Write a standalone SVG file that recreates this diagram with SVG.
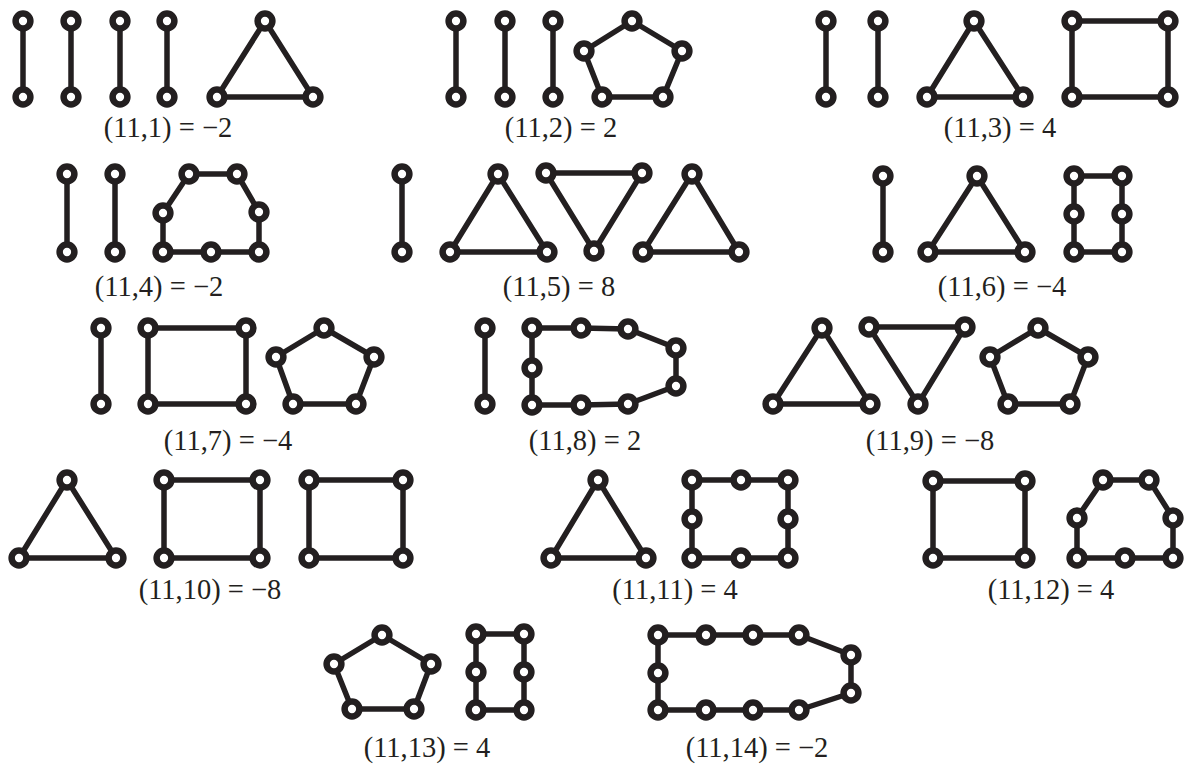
<svg xmlns="http://www.w3.org/2000/svg" width="1186" height="765" viewBox="0 0 1186 765">
<style>
.e{fill:none;stroke:#231f20;stroke-width:5.5;stroke-linejoin:round}
.n{fill:#fff;stroke:#231f20;stroke-width:6.5}
.t{font-family:"Liberation Serif","Times New Roman",serif;font-size:28.5px;fill:#231f20;text-anchor:middle}
</style>
<defs><circle id="c" r="7.4" class="n"/></defs>
<rect width="1186" height="765" fill="#fff"/>
<g id="connectors">
  <g id="e1">
    <line class="e" x1="23" y1="21" x2="23" y2="97"/><line class="e" x1="71" y1="21" x2="71" y2="97"/>
    <line class="e" x1="120" y1="21" x2="120" y2="97"/><line class="e" x1="167" y1="21" x2="167" y2="97"/>
    <polygon class="e" points="265,21 313,97 217,97"/>
  </g>
  <g id="e2">
    <line class="e" x1="456" y1="21" x2="456" y2="97"/><line class="e" x1="505" y1="21" x2="505" y2="97"/>
    <line class="e" x1="553" y1="21" x2="553" y2="97"/>
    <polygon class="e" points="632,21 682,51 663,97 602,97 584,51"/>
  </g>
  <g id="e3">
    <line class="e" x1="826" y1="21" x2="826" y2="97"/><line class="e" x1="878" y1="21" x2="878" y2="97"/>
    <polygon class="e" points="974,21 1023,97 927,97"/>
    <polygon class="e" points="1072,21 1168,21 1168,97 1072,97"/>
  </g>
  <g id="e4">
    <line class="e" x1="67" y1="174" x2="67" y2="252"/><line class="e" x1="115" y1="174" x2="115" y2="252"/>
    <polygon class="e" points="189,174 237,174 259,212 259,252 211,252 163,252 163,213"/>
  </g>
  <g id="e5">
    <line class="e" x1="402" y1="174" x2="402" y2="252"/>
    <polygon class="e" points="498,174 547,252 450,252"/>
    <polygon class="e" points="546,173 642,173 594,251"/>
    <polygon class="e" points="692,174 739,252 643,252"/>
  </g>
  <g id="e6">
    <line class="e" x1="883" y1="176" x2="883" y2="252"/>
    <polygon class="e" points="977,176 1025,252 928,252"/>
    <polygon class="e" points="1074,176 1122,176 1122,214 1122,252 1074,252 1074,214"/>
  </g>
  <g id="e7">
    <line class="e" x1="101" y1="328" x2="101" y2="404"/>
    <polygon class="e" points="148,328 246,328 246,404 148,404"/>
    <polygon class="e" points="324,328 374,357 356,404 293,404 276,357"/>
  </g>
  <g id="e8">
    <line class="e" x1="485" y1="328" x2="485" y2="404"/>
    <polygon class="e" points="532,328 581,328 628,329 676,348 676,386 628,404 581,405 532,405 532,368"/>
  </g>
  <g id="e9">
    <polygon class="e" points="822,328 870,404 773,404"/>
    <polygon class="e" points="869,327 965,327 918,404"/>
    <polygon class="e" points="1038,328 1088,357 1070,404 1008,404 990,357"/>
  </g>
  <g id="e10">
    <polygon class="e" points="67,480 116,558 19,558"/>
    <polygon class="e" points="164,480 260,480 260,558 164,558"/>
    <polygon class="e" points="309,480 403,480 403,558 309,558"/>
  </g>
  <g id="e11">
    <polygon class="e" points="598,480 646,558 551,558"/>
    <polygon class="e" points="692,480 741,480 788,480 788,519 788,558 741,558 692,558 692,519"/>
  </g>
  <g id="e12">
    <polygon class="e" points="933,481 1025,481 1025,558 933,558"/>
    <polygon class="e" points="1103,480 1149,480 1173,518 1173,558 1125,558 1077,558 1077,518"/>
  </g>
  <g id="e13">
    <polygon class="e" points="382,635 431,664 414,709 352,709 334,664"/>
    <polygon class="e" points="476,634 524,634 524,672 524,710 476,710 476,672"/>
  </g>
  <g id="e14">
    <polygon class="e" points="658,635 706,635 753,635 799,635 851,655 851,693 799,710 753,710 706,710 658,710 658,673"/>
  </g>
</g>
<g id="d1">
  <use href="#c" x="23" y="21"/><use href="#c" x="23" y="97"/>
  <use href="#c" x="71" y="21"/><use href="#c" x="71" y="97"/>
  <use href="#c" x="120" y="21"/><use href="#c" x="120" y="97"/>
  <use href="#c" x="167" y="21"/><use href="#c" x="167" y="97"/>
  <use href="#c" x="265" y="21"/><use href="#c" x="217" y="97"/><use href="#c" x="313" y="97"/>
  <text class="t" x="168" y="137">(11,1) = −2</text>
</g>
<g id="d2">
  <use href="#c" x="456" y="21"/><use href="#c" x="456" y="97"/>
  <use href="#c" x="505" y="21"/><use href="#c" x="505" y="97"/>
  <use href="#c" x="553" y="21"/><use href="#c" x="553" y="97"/>
  <use href="#c" x="632" y="21"/><use href="#c" x="682" y="51"/><use href="#c" x="663" y="97"/>
  <use href="#c" x="602" y="97"/><use href="#c" x="584" y="51"/>
  <text class="t" x="561" y="137">(11,2) = 2</text>
</g>
<g id="d3">
  <use href="#c" x="826" y="21"/><use href="#c" x="826" y="97"/>
  <use href="#c" x="878" y="21"/><use href="#c" x="878" y="97"/>
  <use href="#c" x="974" y="21"/><use href="#c" x="1023" y="97"/><use href="#c" x="927" y="97"/>
  <use href="#c" x="1072" y="21"/><use href="#c" x="1168" y="21"/>
  <use href="#c" x="1168" y="97"/><use href="#c" x="1072" y="97"/>
  <text class="t" x="1000" y="137">(11,3) = 4</text>
</g>
<g id="d4">
  <use href="#c" x="67" y="174"/><use href="#c" x="67" y="252"/>
  <use href="#c" x="115" y="174"/><use href="#c" x="115" y="252"/>
  <use href="#c" x="189" y="174"/><use href="#c" x="237" y="174"/><use href="#c" x="259" y="212"/>
  <use href="#c" x="259" y="252"/><use href="#c" x="211" y="252"/><use href="#c" x="163" y="252"/>
  <use href="#c" x="163" y="213"/>
  <text class="t" x="159" y="296">(11,4) = −2</text>
</g>
<g id="d5">
  <use href="#c" x="402" y="174"/><use href="#c" x="402" y="252"/>
  <use href="#c" x="498" y="174"/><use href="#c" x="547" y="252"/><use href="#c" x="450" y="252"/>
  <use href="#c" x="546" y="173"/><use href="#c" x="642" y="173"/><use href="#c" x="594" y="251"/>
  <use href="#c" x="692" y="174"/><use href="#c" x="739" y="252"/><use href="#c" x="643" y="252"/>
  <text class="t" x="559" y="296">(11,5) = 8</text>
</g>
<g id="d6">
  <use href="#c" x="883" y="176"/><use href="#c" x="883" y="252"/>
  <use href="#c" x="977" y="176"/><use href="#c" x="1025" y="252"/><use href="#c" x="928" y="252"/>
  <use href="#c" x="1074" y="176"/><use href="#c" x="1122" y="176"/><use href="#c" x="1122" y="214"/>
  <use href="#c" x="1122" y="252"/><use href="#c" x="1074" y="252"/><use href="#c" x="1074" y="214"/>
  <text class="t" x="1002" y="296">(11,6) = −4</text>
</g>
<g id="d7">
  <use href="#c" x="101" y="328"/><use href="#c" x="101" y="404"/>
  <use href="#c" x="148" y="328"/><use href="#c" x="246" y="328"/>
  <use href="#c" x="246" y="404"/><use href="#c" x="148" y="404"/>
  <use href="#c" x="324" y="328"/><use href="#c" x="374" y="357"/><use href="#c" x="356" y="404"/>
  <use href="#c" x="293" y="404"/><use href="#c" x="276" y="357"/>
  <text class="t" x="228" y="450">(11,7) = −4</text>
</g>
<g id="d8">
  <use href="#c" x="485" y="328"/><use href="#c" x="485" y="404"/>
  <use href="#c" x="532" y="328"/><use href="#c" x="581" y="328"/><use href="#c" x="628" y="329"/>
  <use href="#c" x="676" y="348"/><use href="#c" x="676" y="386"/><use href="#c" x="628" y="404"/>
  <use href="#c" x="581" y="405"/><use href="#c" x="532" y="405"/><use href="#c" x="532" y="368"/>
  <text class="t" x="585" y="450">(11,8) = 2</text>
</g>
<g id="d9">
  <use href="#c" x="822" y="328"/><use href="#c" x="870" y="404"/><use href="#c" x="773" y="404"/>
  <use href="#c" x="869" y="327"/><use href="#c" x="965" y="327"/><use href="#c" x="918" y="404"/>
  <use href="#c" x="1038" y="328"/><use href="#c" x="1088" y="357"/><use href="#c" x="1070" y="404"/>
  <use href="#c" x="1008" y="404"/><use href="#c" x="990" y="357"/>
  <text class="t" x="930" y="450">(11,9) = −8</text>
</g>
<g id="d10">
  <use href="#c" x="67" y="480"/><use href="#c" x="116" y="558"/><use href="#c" x="19" y="558"/>
  <use href="#c" x="164" y="480"/><use href="#c" x="260" y="480"/>
  <use href="#c" x="260" y="558"/><use href="#c" x="164" y="558"/>
  <use href="#c" x="309" y="480"/><use href="#c" x="403" y="480"/>
  <use href="#c" x="403" y="558"/><use href="#c" x="309" y="558"/>
  <text class="t" x="210" y="599">(11,10) = −8</text>
</g>
<g id="d11">
  <use href="#c" x="598" y="480"/><use href="#c" x="646" y="558"/><use href="#c" x="551" y="558"/>
  <use href="#c" x="692" y="480"/><use href="#c" x="741" y="480"/><use href="#c" x="788" y="480"/>
  <use href="#c" x="788" y="519"/><use href="#c" x="788" y="558"/><use href="#c" x="741" y="558"/>
  <use href="#c" x="692" y="558"/><use href="#c" x="692" y="519"/>
  <text class="t" x="675" y="599">(11,11) = 4</text>
</g>
<g id="d12">
  <use href="#c" x="933" y="481"/><use href="#c" x="1025" y="481"/>
  <use href="#c" x="1025" y="558"/><use href="#c" x="933" y="558"/>
  <use href="#c" x="1103" y="480"/><use href="#c" x="1149" y="480"/><use href="#c" x="1173" y="518"/>
  <use href="#c" x="1173" y="558"/><use href="#c" x="1125" y="558"/><use href="#c" x="1077" y="558"/>
  <use href="#c" x="1077" y="518"/>
  <text class="t" x="1051" y="599">(11,12) = 4</text>
</g>
<g id="d13">
  <use href="#c" x="382" y="635"/><use href="#c" x="431" y="664"/><use href="#c" x="414" y="709"/>
  <use href="#c" x="352" y="709"/><use href="#c" x="334" y="664"/>
  <use href="#c" x="476" y="634"/><use href="#c" x="524" y="634"/><use href="#c" x="524" y="672"/>
  <use href="#c" x="524" y="710"/><use href="#c" x="476" y="710"/><use href="#c" x="476" y="672"/>
  <text class="t" x="427" y="757">(11,13) = 4</text>
</g>
<g id="d14">
  <use href="#c" x="658" y="635"/><use href="#c" x="706" y="635"/><use href="#c" x="753" y="635"/>
  <use href="#c" x="799" y="635"/><use href="#c" x="851" y="655"/><use href="#c" x="851" y="693"/>
  <use href="#c" x="799" y="710"/><use href="#c" x="753" y="710"/><use href="#c" x="706" y="710"/>
  <use href="#c" x="658" y="710"/><use href="#c" x="658" y="673"/>
  <text class="t" x="757" y="757">(11,14) = −2</text>
</g>
</svg>
